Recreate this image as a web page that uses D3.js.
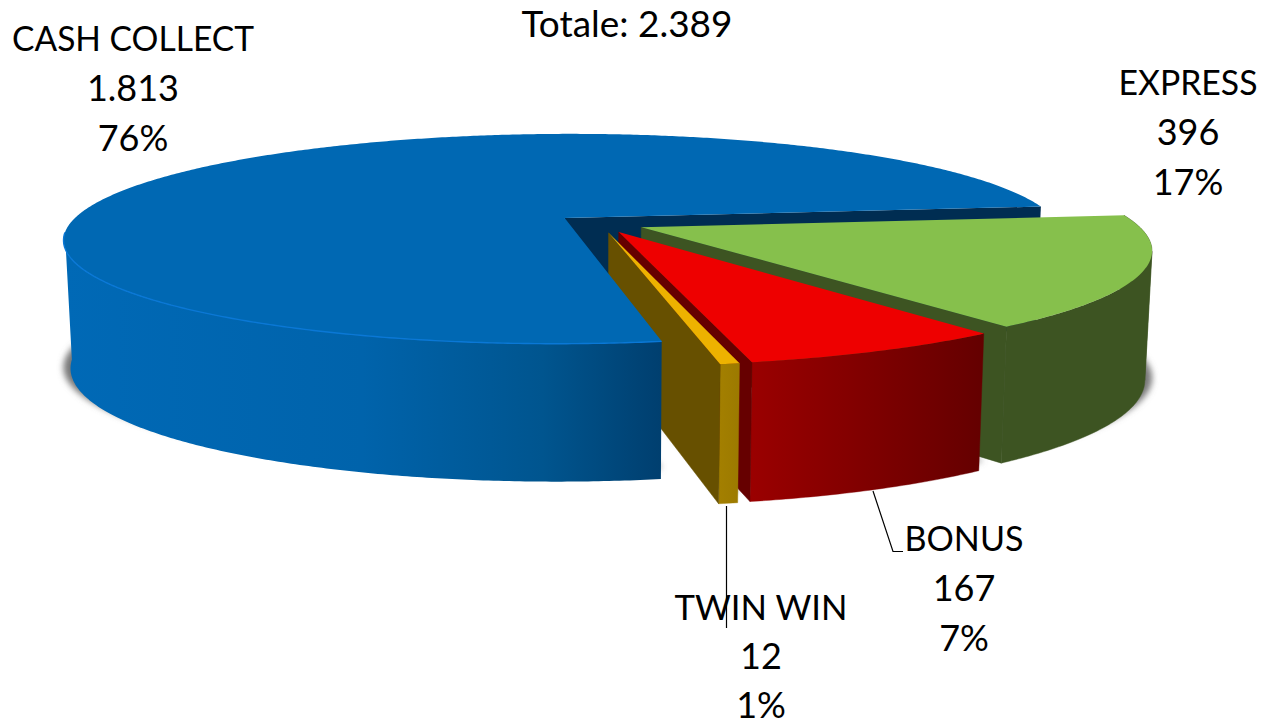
<!DOCTYPE html>
<html><head><meta charset="utf-8">
<script src="https://cdn.jsdelivr.net/npm/d3@7"></script>
<style>html,body{margin:0;padding:0;background:#fff}svg{display:block}text{font-family:Lato,"Open Sans",sans-serif;fill:#000;text-anchor:middle}</style>
</head><body><svg id="c" width="1265" height="726"></svg>
<script>
const categories = ["CASH COLLECT","EXPRESS","BONUS","TWIN WIN"];
const values = [1813,396,167,12];
const valueLabels = ["1.813","396","167","12"];
const percentLabels = ["76%","17%","7%","1%"];
const totalLabel = "Totale: 2.389";

const topColors = ["#0068b3","#86c04c","#ee0000","#edb200"];
const faceColors = ["#002d52","#3d5422","#660000","#675000"];
const sideStops = [
  [[0,"#0069b6"],[0.5,"#0063ab"],[0.8,"#00558f"],[1,"#003f6f"]],
  [[0,"#3d5422"],[1,"#3d5422"]],
  [[0,"#9a0000"],[1,"#640000"]],
  [[0,"#a37f00"],[1,"#9c7a00"]]
];
const labelPos = [[133,51],[1188,95],[964,551],[761,620]];
const lineSteps = [50,50,50,49];
const nameWidths = [242,139,119,173];

const svg = d3.select("#c"), defs = svg.append("defs");
const cx=600, cy=223.5, R=495, Rt=103, p=0.2, E=0.09, H=126;
const deg=Math.PI/180;
const pie = d3.pie().sort(null).startAngle(170*deg).endAngle(530*deg);
const arcs = pie(values);
function proj(theta, rad, mid, z){
  const X=E*Math.sin(mid)+rad*Math.sin(theta), Y=-E*Math.cos(mid)-rad*Math.cos(theta);
  const k=1/(1-p*Y);
  return [cx+R*X*k*(1-0.013*z), cy+Rt*Y*k+z*H*(1+0.1*Y)];
}
const line=d3.line();
function arcAngles(a,b){
  const n=Math.max(2,Math.ceil(Math.abs(b-a)/(0.5*deg)));
  return d3.range(n+1).map(i=>a+(b-a)*i/n);
}
function arcPts(a,b,mid,z){ return arcAngles(a,b).map(t=>proj(t,1,mid,z)); }
const mid=d=>(d.startAngle+d.endAngle)/2;
const topPath=d=>line([proj(0,0,mid(d),0),...arcPts(d.startAngle,d.endAngle,mid(d),0)])+"Z";
function footPath(d){
  const m=mid(d);
  const f=pt=>[pt[0],pt[1]+H+1];
  return line([proj(0,0,m,0),...arcPts(d.startAngle,d.endAngle,m,0)].map(f))+"Z";
}
function endFace(d){
  const m=mid(d),e=d.endAngle;
  return line([proj(0,0,m,0),proj(e,1,m,0),proj(e,1,m,1),proj(0,0,m,1)])+"Z";
}
// the ribbon folds where the arc turns back in x, so it is split there
function sidePaths(d){
  const m=mid(d), ang=arcAngles(d.startAngle,d.endAngle), xs=ang.map(t=>proj(t,1,m,0)[0]);
  const cuts=[0];
  for(let i=1;i<xs.length-1;i++) if((xs[i]-xs[i-1])*(xs[i+1]-xs[i])<0) cuts.push(i);
  cuts.push(xs.length-1);
  return d3.pairs(cuts).map(([a,b])=>{
    const part=ang.slice(a,b+1);
    return line([...part.map(t=>proj(t,1,m,0)),...part.slice().reverse().map(t=>proj(t,1,m,1))])+"Z";
  });
}
arcs.forEach((d,i)=>{
  const front=arcPts(d.startAngle,d.index===0?265*deg:d.endAngle,mid(d),0).map(q=>q[0]);
  const g=defs.append("linearGradient").attr("id","side"+i).attr("gradientUnits","userSpaceOnUse")
    .attr("x1",d3.min(front)).attr("x2",d3.max(front)).attr("y1",0).attr("y2",0);
  sideStops[i].forEach(s=>g.append("stop").attr("offset",s[0]).attr("stop-color",s[1]));
});
const blur=defs.append("filter").attr("id","blur").attr("x","-10%").attr("y","-20%").attr("width","120%").attr("height","140%");
blur.append("feGaussianBlur").attr("stdDeviation",3.2);

svg.append("g").attr("filter","url(#blur)").selectAll("path").data(arcs).join("path")
  .attr("d",footPath).attr("fill","#777");

const g=svg.append("g");
function drawSlice(d){
  const i=d.index;
  sidePaths(d).forEach(s=>g.append("path").attr("d",s).attr("fill",`url(#side${i})`).attr("stroke",`url(#side${i})`).attr("stroke-width",0.4));
}
// Only the blue end face lies behind the other slices; the blue body is drawn last
g.append("path").attr("d",endFace(arcs[0])).attr("fill",faceColors[0]);
[1,2,3].forEach(i=>{
  drawSlice(arcs[i]);
  g.append("path").attr("d",endFace(arcs[i])).attr("fill",faceColors[i]).attr("stroke",faceColors[i]).attr("stroke-width",0.5);
  g.append("path").attr("d",topPath(arcs[i])).attr("fill",topColors[i]);
});
(function(){
  const d=arcs[0], m=mid(d);
  const a=d.startAngle, b=262*deg;
  const ang=arcAngles(a,b);
  g.append("path").attr("d",line([...ang.map(t=>proj(t,1,m,0)),...ang.slice().reverse().map(t=>proj(t,1,m,1))])+"Z").attr("fill","url(#side0)");
  g.append("path").attr("d",topPath(d)).attr("fill",topColors[0]);
  g.append("path").attr("d",line(arcPts(a,b,m,0))).attr("fill","none").attr("stroke","#0a78d6").attr("stroke-width",1.4);
})();

const leaders=[[[873,491],[893,551.5],[903,551.5]],[[726.5,506],[726.5,628]]];
svg.append("g").selectAll("path").data(leaders).join("path").attr("d",d=>line(d))
  .attr("fill","none").attr("stroke","#000").attr("stroke-width",1.2);

const t=svg.append("g").attr("font-size",36);
categories.forEach((c,i)=>{
  const [x,y]=labelPos[i];
  t.append("text").attr("x",x).attr("y",y).attr("font-size",34.5).attr("textLength",nameWidths[i]).attr("lengthAdjust","spacingAndGlyphs").text(c);
  t.append("text").attr("x",x).attr("y",y+lineSteps[i]).text(valueLabels[i]);
  t.append("text").attr("x",x).attr("y",y+2*lineSteps[i]).text(percentLabels[i]);
});
t.append("text").attr("x",627).attr("y",37).attr("textLength",211).attr("lengthAdjust","spacingAndGlyphs").text(totalLabel);
</script></body></html>
